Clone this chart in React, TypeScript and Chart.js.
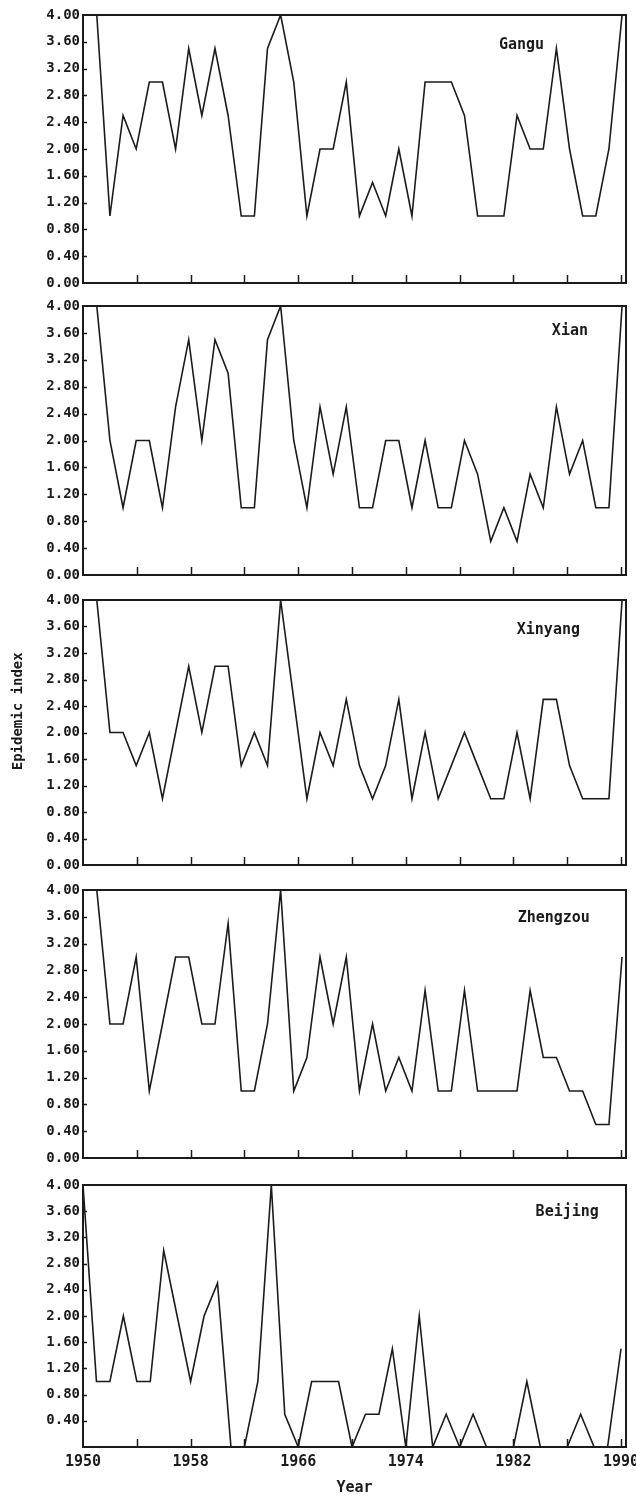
import React, { useEffect, useRef } from 'react';
import { Chart, registerables } from 'chart.js';

Chart.register(...registerables);

// ---- data ----
const years = [
  1950, 1951, 1952, 1953, 1954, 1955, 1956, 1957, 1958, 1959,
  1960, 1961, 1962, 1963, 1964, 1965, 1966, 1967, 1968, 1969,
  1970, 1971, 1972, 1973, 1974, 1975, 1976, 1977, 1978, 1979,
  1980, 1981, 1982, 1983, 1984, 1985, 1986, 1987, 1988, 1989, 1990,
];

const gangu = [
  4.0, 1.0, 2.5, 2.0, 3.0, 3.0, 2.0, 3.5, 2.5, 3.5,
  2.5, 1.0, 1.0, 3.5, 4.0, 3.0, 1.0, 2.0, 2.0, 3.0,
  1.0, 1.5, 1.0, 2.0, 1.0, 3.0, 3.0, 3.0, 2.5, 1.0,
  1.0, 1.0, 2.5, 2.0, 2.0, 3.5, 2.0, 1.0, 1.0, 2.0, 4.0,
];

const xian = [
  4.0, 2.0, 1.0, 2.0, 2.0, 1.0, 2.5, 3.5, 2.0, 3.5,
  3.0, 1.0, 1.0, 3.5, 4.0, 2.0, 1.0, 2.5, 1.5, 2.5,
  1.0, 1.0, 2.0, 2.0, 1.0, 2.0, 1.0, 1.0, 2.0, 1.5,
  0.5, 1.0, 0.5, 1.5, 1.0, 2.5, 1.5, 2.0, 1.0, 1.0, 4.0,
];

const xinyang = [
  4.0, 2.0, 2.0, 1.5, 2.0, 1.0, 2.0, 3.0, 2.0, 3.0,
  3.0, 1.5, 2.0, 1.5, 4.0, 2.5, 1.0, 2.0, 1.5, 2.5,
  1.5, 1.0, 1.5, 2.5, 1.0, 2.0, 1.0, 1.5, 2.0, 1.5,
  1.0, 1.0, 2.0, 1.0, 2.5, 2.5, 1.5, 1.0, 1.0, 1.0, 4.0,
];

const zhengzou = [
  4.0, 2.0, 2.0, 3.0, 1.0, 2.0, 3.0, 3.0, 2.0, 2.0,
  3.5, 1.0, 1.0, 2.0, 4.0, 1.0, 1.5, 3.0, 2.0, 3.0,
  1.0, 2.0, 1.0, 1.5, 1.0, 2.5, 1.0, 1.0, 2.5, 1.0,
  1.0, 1.0, 1.0, 2.5, 1.5, 1.5, 1.0, 1.0, 0.5, 0.5, 3.0,
];

const beijing = [
  4.0, 1.0, 1.0, 2.0, 1.0, 1.0, 3.0, 2.0, 1.0, 2.0,
  2.5, 0.0, 0.0, 1.0, 4.0, 0.5, 0.0, 1.0, 1.0, 1.0,
  0.0, 0.5, 0.5, 1.5, 0.0, 2.0, 0.0, 0.5, 0.0, 0.5,
  0.0, 0.0, 0.0, 1.0, 0.0, 0.0, 0.0, 0.5, 0.0, 0.0, 1.5,
];

// tick marks every 4 years, labels every 8 years
const tickYears = [1950, 1954, 1958, 1962, 1966, 1970, 1974, 1978, 1982, 1986, 1990];
const labelYears = [1950, 1958, 1966, 1974, 1982, 1990];

const yAxisTitle = 'Epidemic index';
const xAxisTitle = 'Year';

// ---- layout / style ----
const INK = '#1b1b1b';
const FONT = '"DejaVu Sans Mono", "Liberation Mono", monospace';
const PAD = 12;
const W = 636;
const H = 1497;

type PanelCfg = {
  name: string;
  data: number[];
  top: number;
  bottom: number;
  dataMin: number;
  dataMax: number;
  nameAt: [number, number];
  last?: boolean;
  yTitle?: boolean;
};

const PANELS: PanelCfg[] = [
  { name: 'Gangu', data: gangu, top: 15, bottom: 283, dataMin: 1948.95, dataMax: 1990.3, nameAt: [1982.6, 3.55] },
  { name: 'Xian', data: xian, top: 306, bottom: 575, dataMin: 1948.95, dataMax: 1990.3, nameAt: [1986.2, 3.63] },
  { name: 'Xinyang', data: xinyang, top: 600, bottom: 865, dataMin: 1948.95, dataMax: 1990.3, nameAt: [1984.6, 3.55], yTitle: true },
  { name: 'Zhengzou', data: zhengzou, top: 890, bottom: 1158, dataMin: 1948.95, dataMax: 1990.3, nameAt: [1985.0, 3.58] },
  { name: 'Beijing', data: beijing, top: 1185, bottom: 1447, dataMin: 1950, dataMax: 1990.37, nameAt: [1986.0, 3.59], last: true },
];

const framePlugin = {
  id: 'frame',
  afterDraw(chart: any, _args: any, opts: any) {
    const { ctx, chartArea: a, scales } = chart;
    ctx.save();
    ctx.strokeStyle = INK;
    ctx.lineWidth = 2;
    ctx.strokeRect(a.left, a.top, a.right - a.left, a.bottom - a.top);

    // inward tick marks on the bottom edge
    ctx.lineWidth = 1.5;
    const xs = scales.x;
    (xs.ticks || []).forEach((t: any) => {
      if (t.value <= xs.min) return;
      const px = Math.round(xs.getPixelForValue(t.value)) + 0.5;
      ctx.beginPath();
      ctx.moveTo(px, a.bottom);
      ctx.lineTo(px, a.bottom - 8);
      ctx.stroke();
    });
    // small inward tick marks on the left edge
    const ys = scales.y;
    (ys.ticks || []).forEach((t: any) => {
      if (t.value <= 0 || t.value >= 4) return;
      const py = Math.round(ys.getPixelForValue(t.value)) + 0.5;
      ctx.beginPath();
      ctx.moveTo(a.left, py);
      ctx.lineTo(a.left + 4, py);
      ctx.stroke();
    });

    // panel name
    ctx.fillStyle = INK;
    ctx.font = `bold 15px ${FONT}`;
    ctx.textAlign = 'center';
    ctx.textBaseline = 'middle';
    ctx.fillText(opts.name, xs.getPixelForValue(opts.nameAt[0]), ys.getPixelForValue(opts.nameAt[1]));

    if (opts.yTitle) {
      ctx.save();
      ctx.translate(18, ys.getPixelForValue(2.32));
      ctx.rotate(-Math.PI / 2);
      ctx.font = `bold 14px ${FONT}`;
      ctx.fillText(yAxisTitle, 0, 0);
      ctx.restore();
    }
    ctx.restore();
  },
};

function Panel({ cfg }: { cfg: PanelCfg }) {
  const ref = useRef<HTMLCanvasElement>(null);
  const canvasTop = cfg.top - PAD;
  const canvasH = cfg.last ? H - canvasTop : cfg.bottom - cfg.top + 2 * PAD;

  useEffect(() => {
    if (!ref.current) return;
    const last = !!cfg.last;
    const chart = new Chart(ref.current, {
      type: 'line',
      data: {
        datasets: [
          {
            data: years.map((y, i) => ({ x: y, y: cfg.data[i] })),
            xAxisID: 'xd',
            yAxisID: 'y',
            borderColor: INK,
            borderWidth: 1.6,
            pointRadius: 0,
            tension: 0,
            fill: false,
          },
        ],
      },
      options: {
        animation: false,
        responsive: false,
        events: [],
        layout: { padding: { left: 0, right: 10, top: PAD, bottom: last ? 0 : PAD } },
        plugins: {
          legend: { display: false },
          tooltip: { enabled: false },
          title: { display: false },
          frame: { name: cfg.name, nameAt: cfg.nameAt, yTitle: !!cfg.yTitle },
        } as any,
        scales: {
          x: {
            type: 'linear',
            position: 'bottom',
            min: 1950,
            max: 1990.37,
            display: last,
            afterBuildTicks: (s: any) => {
              s.ticks = tickYears.map((v) => ({ value: v }));
            },
            ticks: {
              autoSkip: false,
              maxRotation: 0,
              padding: 6,
              color: INK,
              font: { family: FONT, size: 15, weight: 'bold' },
              callback: (v: any) => {
                const n = Math.round(Number(v));
                return labelYears.includes(n) ? String(n) : '';
              },
            },
            grid: { display: false, drawTicks: false },
            border: { display: false },
            title: {
              display: last,
              text: xAxisTitle,
              color: INK,
              font: { family: FONT, size: 15, weight: 'bold' },
              padding: 0,
            },
            afterFit: (s: any) => {
              if (last) s.height = 50;
              s.paddingLeft = 0;
              s.paddingRight = 0;
            },
          } as any,
          xd: {
            type: 'linear',
            display: false,
            min: cfg.dataMin,
            max: cfg.dataMax,
          },
          y: {
            min: 0,
            max: 4,
            ticks: {
              stepSize: 0.4,
              padding: 3,
              autoSkip: false,
              color: INK,
              font: { family: FONT, size: 14, weight: 'bold' },
              callback: (v: any) => (last && Number(v) === 0 ? '' : Number(v).toFixed(2)),
            },
            grid: { display: false, drawTicks: false },
            border: { display: false },
            afterFit: (s: any) => {
              s.width = 83;
              s.paddingTop = 0;
              s.paddingBottom = 0;
            },
          } as any,
        },
      },
      plugins: [framePlugin],
    } as any);
    return () => chart.destroy();
  }, []);

  return (
    <canvas
      ref={ref}
      width={W}
      height={canvasH}
      style={{ position: 'absolute', left: 0, top: canvasTop, display: 'block' }}
    />
  );
}

export default function App() {
  return (
    <div style={{ position: 'absolute', left: 0, top: 0, width: W, height: H, background: '#fff', overflow: 'hidden' }}>
      {PANELS.map((p) => (
        <Panel key={p.name} cfg={p} />
      ))}
    </div>
  );
}
